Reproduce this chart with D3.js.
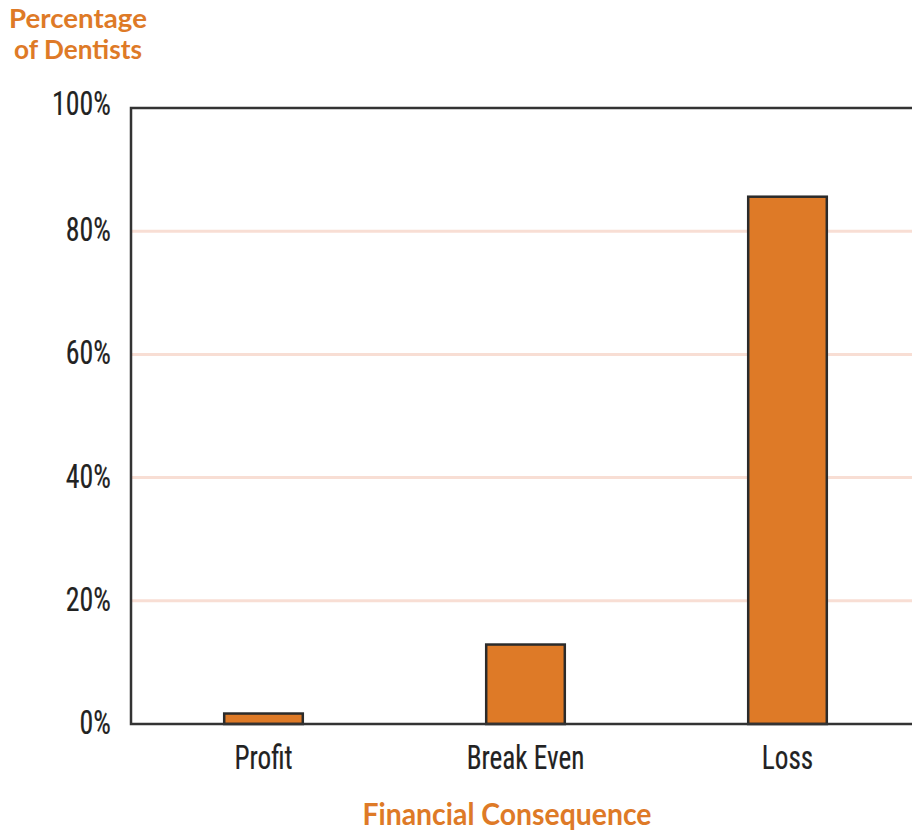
<!DOCTYPE html>
<html>
<head>
<meta charset="utf-8">
<script src="https://cdn.jsdelivr.net/npm/d3@7"></script>
<style>
  html, body { margin: 0; padding: 0; background: #fff; }
  svg { display: block; }
</style>
</head>
<body>
<svg id="chart" width="912" height="833"></svg>
<script>
const categories = ["Profit", "Break Even", "Loss"];
const values = [1.7, 12.9, 85.6];
const yTicks = [0, 20, 40, 60, 80, 100];
const yTitleLines = ["Percentage", "of Dentists"];
const xTitle = "Financial Consequence";

const orange = "#DE7A27";
const dark = "#2b2b2b";
const gridColor = "#F8DED4";
const tickFont = "'Liberation Sans Narrow', 'Arial Narrow', 'Roboto Condensed', sans-serif";
const titleFont = "Lato, 'Open Sans', sans-serif";

const svg = d3.select("#chart");
const mLeft = 131, mTop = 108, mBottom = 724, mRight = 912;

const x = d3.scaleBand().domain(categories).range([mLeft + 1.5, mLeft + 1.5 + 3 * 262]).paddingInner(0.7).paddingOuter(0.35);
const y = d3.scaleLinear().domain([0, 100]).range([mBottom, mTop]);

// horizontal compression helper (condensed look)
function squeeze(sel, k) {
  sel.each(function() {
    const w = this.getComputedTextLength();
    this.setAttribute("textLength", (w * k).toFixed(1));
    this.setAttribute("lengthAdjust", "spacingAndGlyphs");
  });
}

// gridlines
svg.append("g")
  .selectAll("line")
  .data(yTicks.filter(d => d > 0 && d < 100))
  .join("line")
  .attr("x1", mLeft).attr("x2", mRight)
  .attr("y1", d => y(d)).attr("y2", d => y(d))
  .attr("stroke", gridColor).attr("stroke-width", 3);

// bars
svg.append("g")
  .selectAll("rect")
  .data(values)
  .join("rect")
  .attr("x", (d, i) => x(categories[i]))
  .attr("width", x.bandwidth())
  .attr("y", d => y(d))
  .attr("height", d => y(0) - y(d))
  .attr("fill", orange)
  .attr("stroke", dark)
  .attr("stroke-width", 2.5);

// frame: left, top, bottom
const frame = svg.append("g").attr("stroke", "#333").attr("stroke-width", 2.5).attr("fill", "none");
frame.append("path").attr("d", `M${mRight},${y(100)}H${mLeft}V${y(0)}H${mRight}`);

// y axis labels
const yAxis = svg.append("g")
  .attr("transform", `translate(${mLeft},0)`)
  .call(d3.axisLeft(y).tickValues(yTicks).tickSize(0).tickPadding(20).tickFormat(d => d + "%"));
yAxis.select(".domain").remove();
yAxis.selectAll("text")
  .attr("font-family", tickFont)
  .attr("font-size", 34)
  .attr("fill", "#222")
  .attr("stroke", "#222")
  .attr("stroke-width", 0.2)
  .attr("dy", "0.28em")
  .call(squeeze, 0.82);
yAxis.selectAll(".tick").filter(d => d === 100).select("text").attr("dy", "0.18em");

// x axis labels
const xAxis = svg.append("g")
  .attr("transform", `translate(0,${mBottom})`)
  .call(d3.axisBottom(x).tickSize(0).tickPadding(0));
xAxis.select(".domain").remove();
xAxis.selectAll("text")
  .attr("font-family", tickFont)
  .attr("font-size", 34)
  .attr("fill", "#222")
  .attr("stroke", "#222")
  .attr("stroke-width", 0.2)
  .attr("dy", null)
  .attr("y", 45)
  .call(squeeze, 0.8);

// y title
svg.append("g")
  .selectAll("text")
  .data(yTitleLines)
  .join("text")
  .attr("x", 78)
  .attr("y", (d, i) => 28 + i * 31)
  .attr("text-anchor", "middle")
  .attr("font-family", titleFont)
  .attr("font-weight", "bold")
  .attr("font-size", 26)
  .attr("fill", orange)
  .text(d => d)
  .each(function(d, i) {
    this.setAttribute("textLength", [138, 128][i]);
    this.setAttribute("lengthAdjust", "spacingAndGlyphs");
  });

// x title
svg.append("text")
  .attr("x", 507)
  .attr("y", 825)
  .attr("text-anchor", "middle")
  .attr("font-family", titleFont)
  .attr("font-weight", "bold")
  .attr("font-size", 30)
  .attr("fill", orange)
  .attr("textLength", 289)
  .attr("lengthAdjust", "spacingAndGlyphs")
  .text(xTitle);
</script>
</body>
</html>
